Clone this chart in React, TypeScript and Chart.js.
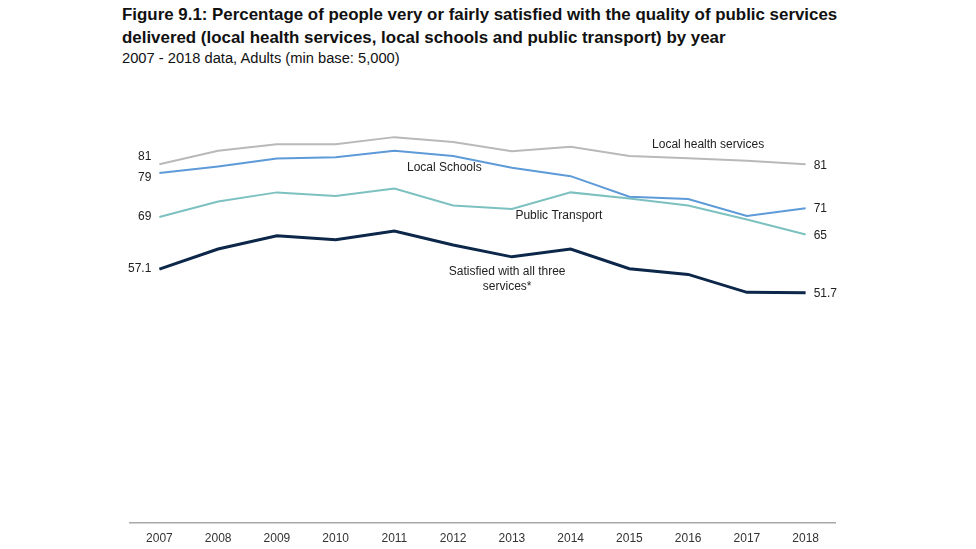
import React, { useEffect, useRef } from "react";
import { Chart, registerables } from "chart.js";

Chart.register(...registerables);

const years = ["2007", "2008", "2009", "2010", "2011", "2012", "2013", "2014", "2015", "2016", "2017", "2018"];
const healthServices = [81, 84.1, 85.6, 85.6, 87.2, 86.1, 84.0, 85.0, 82.9, 82.4, 81.8, 81];
const localSchools = [79, 80.5, 82.3, 82.6, 84.1, 82.9, 80.2, 78.3, 73.6, 73.1, 69.2, 71];
const publicTransport = [69, 72.5, 74.6, 73.8, 75.5, 71.6, 70.8, 74.6, 73.2, 71.6, 68.4, 65];
const allThree = [57.1, 61.7, 64.7, 63.8, 65.8, 62.6, 59.9, 61.7, 57.2, 55.9, 51.8, 51.7];

const startLabels = ["81", "79", "69", "57.1"];
const endLabels = ["81", "71", "65", "51.7"];
const seriesNames = ["Local health services", "Local Schools", "Public Transport", "Satisfied with all three|services*"];

// [x index, y value] anchor for series name labels
const nameAnchors: [number, number][] = [
  [9.34, 85.5],
  [4.85, 80.3],
  [6.8, 69.4],
  [5.92, 56.6],
];
// vertical pixel nudges for start labels
const startNudge = [-8, 5, 0, 0];

const labelPlugin = {
  id: "lineLabels",
  afterDatasetsDraw(chart: any) {
    const ctx = chart.ctx;
    const xs = chart.scales.x;
    const ys = chart.scales.y;
    ctx.save();
    ctx.font = "12px 'Liberation Sans', Arial, sans-serif";
    ctx.fillStyle = "#222";
    ctx.textBaseline = "middle";
    chart.data.datasets.forEach((ds: any, i: number) => {
      const d = ds.data;
      const x0 = xs.getPixelForValue(0);
      const y0 = ys.getPixelForValue(d[0]);
      ctx.textAlign = "right";
      ctx.fillText(startLabels[i], x0 - 8, y0 + startNudge[i]);
      const xn = xs.getPixelForValue(d.length - 1);
      const yn = ys.getPixelForValue(d[d.length - 1]);
      ctx.textAlign = "left";
      ctx.fillText(endLabels[i], xn + 8, yn + 1);
      const [ax, ay] = nameAnchors[i];
      const lines = seriesNames[i].split("|");
      const px = x0 + (xs.getPixelForValue(1) - x0) * ax;
      const py = ys.getPixelForValue(ay);
      ctx.textAlign = "center";
      lines.forEach((ln: string, j: number) => ctx.fillText(ln, px, py + j * 15));
    });
    ctx.restore();
  },
};

export default function App() {
  const ref = useRef<HTMLCanvasElement>(null);
  useEffect(() => {
    if (!ref.current) return;
    const chart = new Chart(ref.current, {
      type: "line",
      data: {
        labels: years,
        datasets: [
          { label: "Local health services", data: healthServices, borderColor: "#b9b9b9", borderWidth: 2, pointRadius: 0, tension: 0 },
          { label: "Local Schools", data: localSchools, borderColor: "#5d9ad8", borderWidth: 2, pointRadius: 0, tension: 0 },
          { label: "Public Transport", data: publicTransport, borderColor: "#7cc1c0", borderWidth: 2, pointRadius: 0, tension: 0 },
          { label: "Satisfied with all three services*", data: allThree, borderColor: "#0c2749", borderWidth: 3, pointRadius: 0, tension: 0 },
        ],
      },
      options: {
        responsive: false,
        animation: false,
        events: [],
        layout: { padding: { left: 130, right: 141, top: 81, bottom: -6 } },
        plugins: { legend: { display: false }, tooltip: { enabled: false }, title: { display: false } },
        scales: {
          x: {
            offset: true,
            grid: { display: false, drawTicks: false },
            border: { display: true, color: "#a8a8a8", width: 1.5 },
            ticks: { color: "#333", font: { size: 12, family: "'Liberation Sans', Arial, sans-serif" }, padding: 9, maxRotation: 0 },
          },
          y: { display: false, min: -0.7, max: 100 },
        },
      },
      plugins: [labelPlugin],
    });
    return () => chart.destroy();
  }, []);
  return (
    <div style={{ position: "fixed", left: 0, top: 0, width: 976, height: 549, background: "#fff", fontFamily: "'Liberation Sans', Arial, sans-serif" }}>
      <div style={{ position: "absolute", left: 122, top: 3, fontWeight: "bold", fontSize: 16.9, lineHeight: "23px", color: "#111" }}>
        Figure 9.1: Percentage of people very or fairly satisfied with the quality of public services
        <br />
        delivered (local health services, local schools and public transport) by year
      </div>
      <div style={{ position: "absolute", left: 122, top: 50, fontSize: 14.7, color: "#111" }}>
        2007 - 2018 data, Adults (min base: 5,000)
      </div>
      <canvas ref={ref} width={976} height={549} style={{ position: "absolute", left: 0, top: 0 }} />
    </div>
  );
}
